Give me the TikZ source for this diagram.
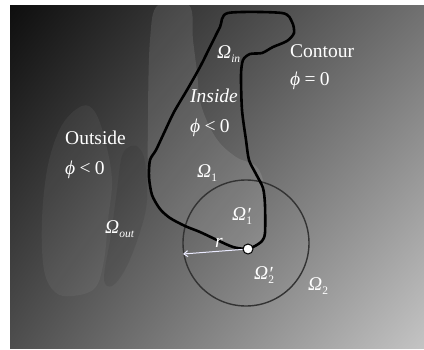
\documentclass[tikz,border=0pt]{standalone}
\usepackage{fontspec}
\setmainfont{Liberation Serif}
\usetikzlibrary{arrows.meta,shadings}
\definecolor{bgul}{RGB}{14,14,14}
\definecolor{bgur}{RGB}{112,112,112}
\definecolor{bgll}{RGB}{78,78,78}
\definecolor{bglr}{RGB}{196,196,196}
\newcommand\lsub[1]{\raisebox{-0.45ex}{\fontsize{11.5}{11.5}\selectfont #1}}
\newcommand\lprime{\rlap{\raisebox{-0.2ex}{\fontsize{20}{20}\selectfont\textit{′}}}}
\newcommand\om{\textit{Ω}}
\newcommand\vphi{\textit{ϕ}}
\begin{document}
\begin{tikzpicture}[x=1pt,y=-1pt,
  lab/.style={text=white,inner sep=0pt,anchor=base west,font=\fontsize{19.5}{22}\selectfont},
  contourline/.style={draw=black,line width=2.6pt,line join=round},
  ring/.style={draw=black!80,line width=1.4pt},
  radius arrow/.style={draw=white!92!blue,line width=1pt,-{Straight Barb[length=4pt,width=6pt]}},
  pointdot/.style={circle,fill=white,draw=black,line width=1pt,minimum size=10pt,inner sep=0pt}]
\useasboundingbox (0,0) rectangle (424,349);
\fill[white] (0,0) rectangle (424,349);
\shade[upper left=bgul, upper right=bgur, lower left=bgll, lower right=bglr] (10,5) rectangle (424,348);
% faint background regions
\fill[white,opacity=0.10] plot[smooth cycle,tension=0.6] coordinates {
  (158,5) (189,5) (193,40) (197,72) (201,105) (216,138) (236,157) (256,166) (264,185)
  (265,215) (262,240) (247,249) (217,240) (185,226) (160,209) (149,177) (148,120) (150,40)};
\fill[white,opacity=0.05] plot[smooth cycle,tension=0.6] coordinates {
  (82,106) (62,125) (48,165) (42,220) (44,270) (55,292) (72,296) (95,288) (104,260)
  (108,220) (112,180) (105,140) (95,112)};
\fill[black,opacity=0.08] plot[smooth cycle,tension=0.6] coordinates {
  (131,146) (122,156) (117,190) (111,235) (104,278) (112,286) (126,268) (140,232)
  (147,200) (145,162) (139,148)};
% circle of radius r
\node[ring,circle,minimum size=126pt,inner sep=0pt] (ball) at (246,243) {};
% contour
\draw[contourline] plot[smooth cycle,tension=0.45] coordinates {
  (228,13) (282,13) (292,22) (294,33) (287,41) (273,47) (262,53) (250,54) (243,60)
  (241,75) (242,110) (246,140) (249,160) (256,174) (263,188) (265,205) (265,233)
  (262,241) (255,246) (247,249) (233,247) (217,240) (200,232) (185,226) (170,218)
  (160,209) (152,195) (149,177) (150,160) (156,150) (164,133) (174,112) (187,90)
  (200,67) (210,47) (220,27)};
% point and radius
\node[pointdot] (pt) at (248,249) {};
\coordinate (rend) at (183,254);
\draw[radius arrow] (pt) -- (rend);
% labels
\node[lab] (contour) at (290,57) {Contour};
\node[lab] (phizero) at (290,85) {\vphi\hspace{0.22em}=\hspace{0.22em}0};
\node[lab] (omin) at (217,58) {\om\lsub{\textit{in}}};
\node[lab] (inside) at (190,102) {\textit{Inside}};
\node[lab] (phiin) at (190,132) {\vphi\hspace{0.22em}<\hspace{0.22em}0};
\node[lab] (outside) at (65,144) {Outside};
\node[lab] (phiout) at (65,174) {\vphi\hspace{0.22em}<\hspace{0.22em}0};
\node[lab] (om1) at (197,177) {\om\lsub{1}};
\node[lab] (om1p) at (232,220) {\om\lprime\lsub{1}};
\node[lab] (omout) at (105,233) {\om\lsub{\textit{out}}};
\node[lab] (rlab) at (215,247) {\textit{r}};
\node[lab] (om2p) at (254,279) {\om\lprime\lsub{2}};
\node[lab] (om2) at (308,290) {\om\lsub{2}};
\end{tikzpicture}
\end{document}
